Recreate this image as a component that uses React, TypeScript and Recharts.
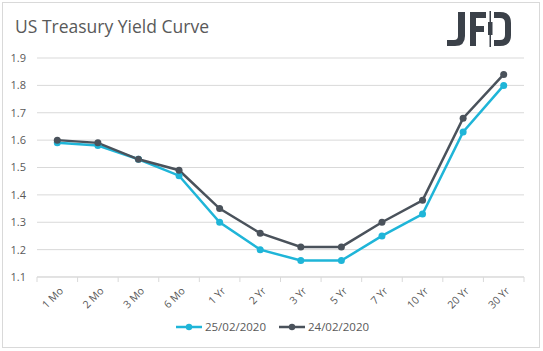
import React from 'react';
import { LineChart, Line, XAxis, YAxis, CartesianGrid, Legend } from 'recharts';

const maturities = ['1 Mo', '2 Mo', '3 Mo', '6 Mo', '1 Yr', '2 Yr', '3 Yr', '5 Yr', '7 Yr', '10 Yr', '20 Yr', '30 Yr'];
const yield2502 = [1.59, 1.58, 1.53, 1.47, 1.30, 1.20, 1.16, 1.16, 1.25, 1.33, 1.63, 1.80];
const yield2402 = [1.60, 1.59, 1.53, 1.49, 1.35, 1.26, 1.21, 1.21, 1.30, 1.38, 1.68, 1.84];
const yTicks = [1.1, 1.2, 1.3, 1.4, 1.5, 1.6, 1.7, 1.8, 1.9];

const W = 543;
const H = 351;
const MARGIN = { top: 58, right: 19, left: 0, bottom: 12 };
const Y_W = 37;
const PLOT_W = W - MARGIN.right - Y_W;
const BAND = PLOT_W / maturities.length;

const CYAN = '#1fb5d8';
const DARK = '#4a525b';
const TEXT = '#595959';
const GRID = '#d9d9d9';
const FONT = '"Open Sans", "DejaVu Sans", sans-serif';

const data = maturities.map((m, i) => ({ name: m, d25: yield2502[i], d24: yield2402[i] }));

const series = [
  { key: 'd25', label: '25/02/2020', color: CYAN },
  { key: 'd24', label: '24/02/2020', color: DARK },
];

// Excel-style x ticks: marks on band edges, labels rotated under the point
function XTick(props: any) {
  const { x, y, payload, index } = props;
  return (
    <g>
      <line x1={x - BAND / 2} x2={x - BAND / 2} y1={y} y2={y + 5} stroke={GRID} />
      {index === maturities.length - 1 && (
        <line x1={x + BAND / 2} x2={x + BAND / 2} y1={y} y2={y + 5} stroke={GRID} />
      )}
      <text
        transform={`translate(${x + 4},${y + 12}) rotate(-45)`}
        textAnchor="end"
        dy="0.35em"
        fill={TEXT}
        fontSize={10.5}
        fontFamily={FONT}
      >
        {payload.value}
      </text>
    </g>
  );
}

function LegendContent() {
  return (
    <div style={{ display: 'flex', justifyContent: 'center', gap: 12, paddingLeft: 20, fontFamily: FONT, fontSize: 11.5, color: TEXT }}>
      {series.map(s => (
        <div key={s.key} style={{ display: 'flex', alignItems: 'center', gap: 2 }}>
          <svg width={28} height={10}>
            <line x1={1} x2={27} y1={5} y2={5} stroke={s.color} strokeWidth={2.5} />
            <circle cx={14} cy={5} r={3.2} fill={s.color} />
          </svg>
          <span>{s.label}</span>
        </div>
      ))}
    </div>
  );
}

function Logo() {
  const c = '#3b4149';
  return (
    <svg width={66} height={36} style={{ position: 'absolute', left: 446, top: 11 }}>
      {/* J */}
      <path d="M12 1 h7 v24 q0 10 -10 10 h-8 v-6 h7 q4 0 4 -4 z" fill={c} />
      {/* F */}
      <rect x={24} y={1} width={6} height={34} fill={c} />
      <rect x={24} y={1} width={16} height={6} fill={c} />
      <rect x={24} y={15} width={14} height={6} fill={c} />
      {/* D with candle */}
      <rect x={43.5} y={0} width={1.5} height={36} fill={c} />
      <rect x={42} y={11} width={4.5} height={13} fill={c} />
      <path d="M48 1 h6 q11 0 11 11 v12 q0 11 -11 11 h-6 v-6 h6 q5 0 5 -5 v-12 q0 -5 -5 -5 h-6 z" fill={c} />
    </svg>
  );
}

export default function App() {
  return (
    <div style={{ position: 'relative', width: W, height: H, background: '#fff', fontFamily: FONT }}>
      <style>{`body{margin:0}`}</style>
      <div
        style={{
          position: 'absolute', left: 2, top: 2, width: W - 5, height: H - 5,
          border: `1px solid ${GRID}`, boxSizing: 'border-box', pointerEvents: 'none',
        }}
      />
      <div style={{ position: 'absolute', left: 15, top: 14, fontSize: 17.5, color: TEXT, fontWeight: 400 }}>
        US Treasury Yield Curve
      </div>
      <Logo />
      <div style={{ position: 'absolute', left: 0, top: 0 }}>
        <LineChart width={W} height={H} data={data} margin={MARGIN}>
          <CartesianGrid vertical={false} stroke={GRID} />
          <XAxis
            dataKey="name"
            interval={0}
            height={42}
            padding={{ left: BAND / 2, right: BAND / 2 }}
            tickLine={false}
            tickSize={0}
            tickMargin={0}
            axisLine={{ stroke: GRID }}
            tick={<XTick />}
          />
          <YAxis
            domain={[1.1, 1.9]}
            ticks={yTicks}
            width={Y_W}
            axisLine={false}
            tickLine={false}
            tickMargin={5}
            tick={{ fill: TEXT, fontSize: 11, fontFamily: FONT }}
            tickFormatter={(v: number) => v.toFixed(1)}
          />
          <Legend verticalAlign="bottom" height={20} content={<LegendContent />} />
          {series.map(s => (
            <Line
              key={s.key}
              dataKey={s.key}
              name={s.label}
              stroke={s.color}
              strokeWidth={2.5}
              dot={{ r: 3.5, fill: s.color, stroke: s.color, strokeWidth: 0 }}
              isAnimationActive={false}
            />
          ))}
        </LineChart>
      </div>
    </div>
  );
}
